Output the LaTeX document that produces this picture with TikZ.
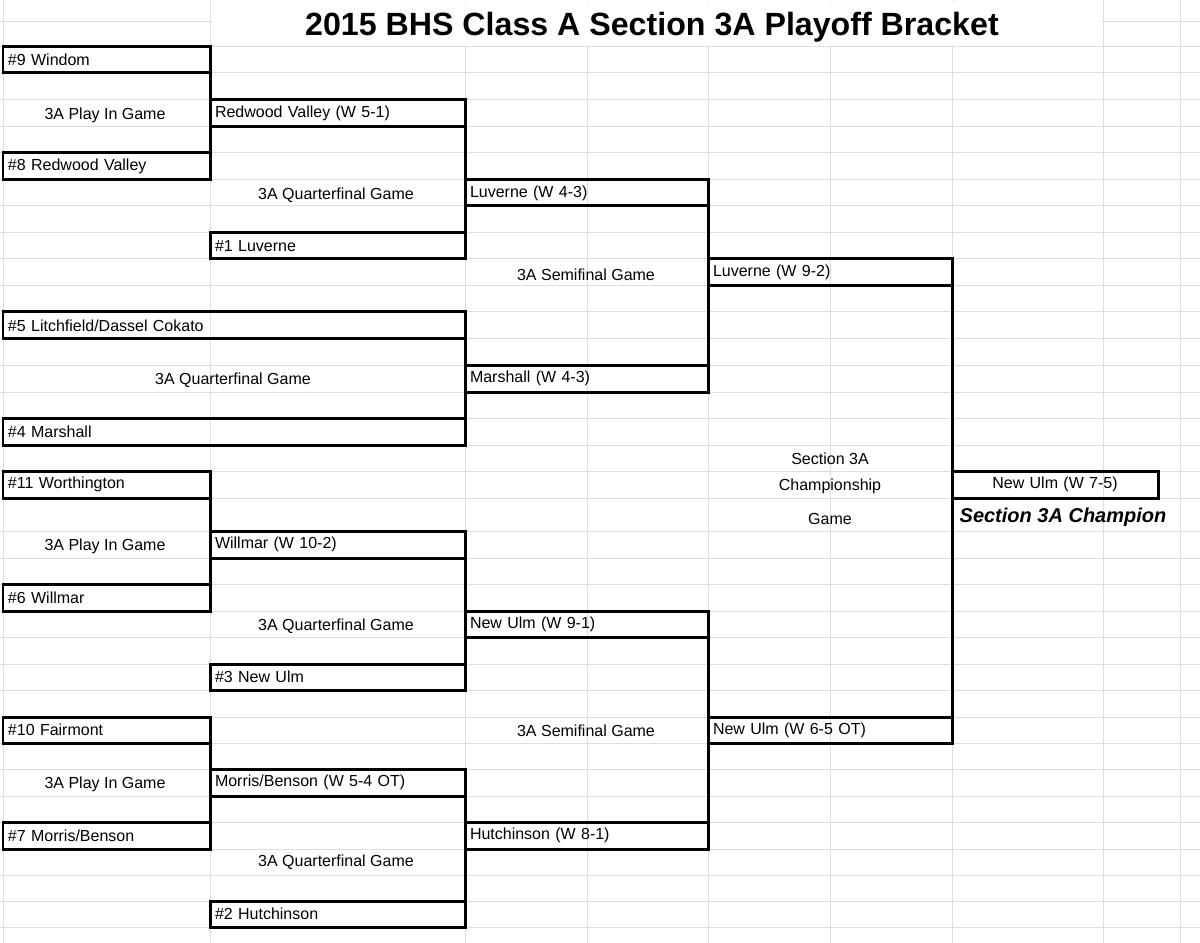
\documentclass[tikz,border=0pt]{standalone}
\usepackage{fontspec}
\setmainfont{Liberation Sans}
\newfontfamily\champfont{Liberation Sans}
\begin{document}
\begin{tikzpicture}[x=0.6pt,y=-0.6pt,
  grid/.style={draw=black!13,line width=0.6pt},
  box/.style={draw=black,line width=1.8pt,anchor=north west,inner sep=0pt,outer sep=0pt,font=\fontsize{9.6}{10}\selectfont},
  lbl/.style={font=\fontsize{9.6}{10}\selectfont,inner sep=0pt},
  con/.style={draw=black,line width=1.8pt,line cap=rect}]
\useasboundingbox (0,0) rectangle (1200,943);
\fill[white] (0,0) rectangle (1200,943);
% grid
\foreach \y in {22,47,73,100,127,153,180,206,233,259,286,312,339,365,392,418,445,471,498,531,558,584,611,637,664,690,717,743,769,796,822,849,875,901,927}
  \draw[grid] (0,\y) -- (1200,\y);
\foreach \x in {3,210,465,587,708,830,952,1103,1180}
  \draw[grid] (\x,0) -- (\x,943);
\fill[white] (212,1) rectangle (1101,45);
\node[font=\fontsize{19.3}{22}\selectfont\bfseries] (title) at (652,27) {2015 BHS Class A Section 3A Playoff Bracket};
% macro
\newcommand\tmbox[6]{\node[box,minimum width={(#4-#2)*0.6pt},minimum height={(#5-#3)*0.6pt},text width={(#4-#2-10)*0.6pt},align=left] (#1) at (#2,#3) {#6};}
\newcommand\tmboxc[6]{\node[box,minimum width={(#4-#2)*0.6pt},minimum height={(#5-#3)*0.6pt},text width={(#4-#2-10)*0.6pt},align=center] (#1) at (#2,#3) {#6};}
% top half
\tmbox{w9}{3}{47}{210}{73}{\#9 Windom}
\tmbox{r8}{3}{153}{210}{180}{\#8 Redwood Valley}
\tmbox{rvw}{210}{100}{465}{127}{Redwood Valley (W 5-1)}
\tmbox{l1}{210}{233}{465}{259}{\#1 Luverne}
\tmbox{luw}{465}{180}{708}{206}{Luverne (W 4-3)}
\tmbox{l5}{3}{312}{465}{339}{\#5 Litchfield/Dassel Cokato}
\tmbox{m4}{3}{418}{465}{445}{\#4 Marshall}
\tmbox{maw}{465}{365}{708}{392}{Marshall (W 4-3)}
\tmbox{luw2}{708}{259}{952}{286}{Luverne (W 9-2)}
% bottom half
\tmbox{w11}{3}{471}{210}{498}{\#11 Worthington}
\tmbox{w6}{3}{584}{210}{611}{\#6 Willmar}
\tmbox{wiw}{210}{531}{465}{558}{Willmar (W 10-2)}
\tmbox{n3}{210}{664}{465}{690}{\#3 New Ulm}
\tmbox{nuw}{465}{611}{708}{637}{New Ulm (W 9-1)}
\tmbox{f10}{3}{717}{210}{743}{\#10 Fairmont}
\tmbox{m7}{3}{822}{210}{849}{\#7 Morris/Benson}
\tmbox{mbw}{210}{769}{465}{796}{Morris/Benson (W 5-4 OT)}
\tmbox{h2}{210}{901}{465}{927}{\#2 Hutchinson}
\tmbox{huw}{465}{822}{708}{849}{Hutchinson (W 8-1)}
\tmbox{nuw2}{708}{717}{952}{743}{New Ulm (W 6-5 OT)}
\tmboxc{champ}{952}{471}{1158}{498}{New Ulm (W 7-5)}
% connectors
\draw[con] (w9.north east) -- (r8.south east);
\draw[con] (rvw.north east) -- (l1.south east);
\draw[con] (luw.north east) -- (maw.south east);
\draw[con] (l5.north east) -- (m4.south east);
\draw[con] (w11.north east) -- (w6.south east);
\draw[con] (wiw.north east) -- (n3.south east);
\draw[con] (f10.north east) -- (m7.south east);
\draw[con] (mbw.north east) -- (h2.south east);
\draw[con] (nuw.north east) -- (huw.south east);
\draw[con] (luw2.north east) -- (nuw2.south east);
% labels
\node[lbl] (pg1) at (105,115) {3A Play In Game};
\node[lbl] (qf1) at (336,195) {3A Quarterfinal Game};
\node[lbl] (sf1) at (586,275) {3A Semifinal Game};
\node[lbl] (qf2) at (233,380) {3A Quarterfinal Game};
\node[lbl] (pg2) at (105,546) {3A Play In Game};
\node[lbl] (qf3) at (336,626) {3A Quarterfinal Game};
\node[lbl] (sf2) at (586,731) {3A Semifinal Game};
\node[lbl] (pg3) at (105,784) {3A Play In Game};
\node[lbl] (qf4) at (336,862) {3A Quarterfinal Game};
\node[lbl] (cg1) at (830,459) {Section 3A};
\node[lbl] (cg2) at (830,486) {Championship};
\node[lbl] (cg3) at (830,519) {Game};
\node[font=\champfont\fontsize{12}{13}\selectfont\bfseries\itshape,inner sep=0pt] (ct) at (1063,517) {Section 3A Champion};
\end{tikzpicture}
\end{document}
